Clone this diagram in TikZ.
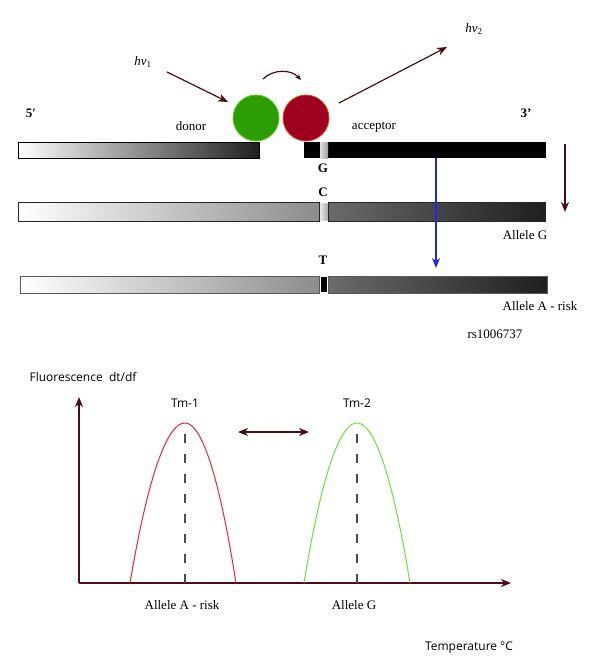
\documentclass[tikz,border=0pt]{standalone}
\usepackage{fontspec}
\setmainfont{Liberation Serif}
\newfontfamily\sansf{Open Sans}
\usetikzlibrary{arrows.meta}
\definecolor{brn}{RGB}{72,14,22}
\definecolor{gfill}{RGB}{44,158,4}
\definecolor{gedge}{RGB}{90,200,40}
\definecolor{rfill}{RGB}{158,0,32}
\definecolor{redge}{RGB}{220,70,20}
\definecolor{redc}{RGB}{226,40,50}
\definecolor{grnc}{RGB}{110,220,60}
\definecolor{bluec}{RGB}{30,40,235}
\begin{document}
\begin{tikzpicture}[x=1pt,y=-1pt,
  lbl/.style={font=\fontsize{13}{15}\selectfont, inner sep=0pt},
  slbl/.style={font=\sansf\fontsize{12}{14}\selectfont, inner sep=0pt},
  arr/.style={draw=brn, line width=1.2pt, -{Stealth[length=10pt,width=8pt,inset=3pt]}},
  darr/.style={draw=brn, line width=1.2pt, {Stealth[length=10pt,width=8pt,inset=3pt]}-{Stealth[length=10pt,width=8pt,inset=3pt]}},
  sarr/.style={draw=brn, line width=1.2pt, -{Stealth[length=6pt,width=5pt]}},
  barframe/.style={draw=black, line width=0.9pt},
  dashln/.style={draw=black!70, line width=1.2pt, dash pattern=on 9pt off 11pt},
  ball/.style={circle, minimum size=46pt, inner sep=0pt, line width=0.8pt}
]
\useasboundingbox (0,0) rectangle (600,662);

% ---------- top strand (probes) ----------
\shade[left color=white, right color=black!88] (18,142) rectangle (259,158);
\draw[barframe] (18,142) rectangle (259,158);
\fill[black] (304,142) rectangle (546,158);
\shade[left color=gray!25, right color=gray!75] (320,142) rectangle (328,158);

% ---------- bar 2 (allele G) ----------
\shade[left color=white, right color=black!45] (18,202) rectangle (319,221);
\draw[draw=black!85, line width=0.9pt] (18,202) rectangle (319,221);
\shade[left color=black!58, right color=black!88] (328,202) rectangle (545,221);
\draw[draw=black!85, line width=0.9pt] (328,202) rectangle (545,221);
\shade[left color=gray!20, right color=gray!65] (320.5,203) rectangle (327.5,220);

% ---------- bar 3 (allele A) ----------
\shade[left color=white, right color=black!45] (20,276) rectangle (319,293);
\draw[draw=black!65, line width=1pt] (20,276) rectangle (319,293);
\shade[left color=black!58, right color=black!88] (328,276) rectangle (547,293);
\draw[draw=black!65, line width=1pt] (328,276) rectangle (547,293);
\fill[black] (321,277) rectangle (326.5,292);

% ---------- fluorophores ----------
\node[ball, fill=gfill, draw=gedge] (donorC) at (256,118) {};
\node[ball, fill=rfill, draw=redge] (accC) at (306,118) {};

% ---------- labels top ----------
\node[lbl] (five) at (31,113) {\textbf{5′}};
\node[lbl] (three) at (526,113) {\textbf{3’}};
\node[lbl] (donor) at (191,126) {donor};
\node[lbl] (acceptor) at (374,127) {acceptor};
\node[lbl] (hv1) at (143,62) {\textit{hν}\textsubscript{1}};
\node[lbl] (hv2) at (474,29) {\textit{hν}\textsubscript{2}};
\node[lbl] (Gl) at (323,168) {\textbf{G}};
\node[lbl] (Cl) at (323,192) {\textbf{C}};
\node[lbl] (Tl) at (323,260) {\textbf{T}};
\node[lbl] (alG) at (525,235) {Allele G};
\node[lbl] (alA) at (540,306) {Allele A - risk};
\node[lbl] (rs) at (495,334) {rs1006737};

% ---------- top arrows ----------
\coordinate (h1s) at (167,72);
\coordinate (h1e) at (228,102);
\draw[arr] (h1s) -- (h1e);
\coordinate (h2s) at (339,103);
\coordinate (h2e) at (447,47);
\draw[arr] (h2s) -- (h2e);
\coordinate (fs) at (263,79);
\coordinate (fe) at (301,80);
\draw[sarr] (fs) .. controls (273,69) and (291,69) .. (fe);
\coordinate (ds) at (565,144);
\coordinate (de) at (565,212);
\draw[arr] (ds) -- (de);
\coordinate (bs) at (436,158);
\coordinate (be) at (436,268);
\draw[draw=bluec, line width=1.2pt, -{Stealth[length=10pt,width=8pt,inset=3pt]}] (bs) -- (be);

% ---------- melting curve plot ----------
\coordinate (O) at (79,583);
\coordinate (ytop) at (79,397);
\coordinate (xend) at (511,583);
\draw[arr] (O) -- (ytop);
\draw[arr] (O) -- (xend);

\coordinate (p1) at (185,423);
\coordinate (p1b) at (185,583);
\coordinate (p2) at (357,423);
\coordinate (p2b) at (357,583);
\draw[redc, line width=1pt] (130,583) parabola bend (p1) (236,583);
\draw[grnc, line width=1pt] (304,583) parabola bend (p2) (410,583);
\draw[dashln] (p1b) -- (p1);
\draw[dashln] (p2b) -- (p2);

\coordinate (da) at (238,432);
\coordinate (db) at (309,432);
\draw[darr] (da) -- (db);

\node[slbl] (fl) at (83,377) {Fluorescence\ \ dt/df};
\node[slbl] (tm1) at (185,403) {Tm-1};
\node[slbl] (tm2) at (357,403) {Tm-2};
\node[slbl] (temp) at (469,648) {Temperature °C};
\node[lbl] (alA2) at (182,605) {Allele A - risk};
\node[lbl] (alG2) at (354,605) {Allele G};
\end{tikzpicture}
\end{document}
